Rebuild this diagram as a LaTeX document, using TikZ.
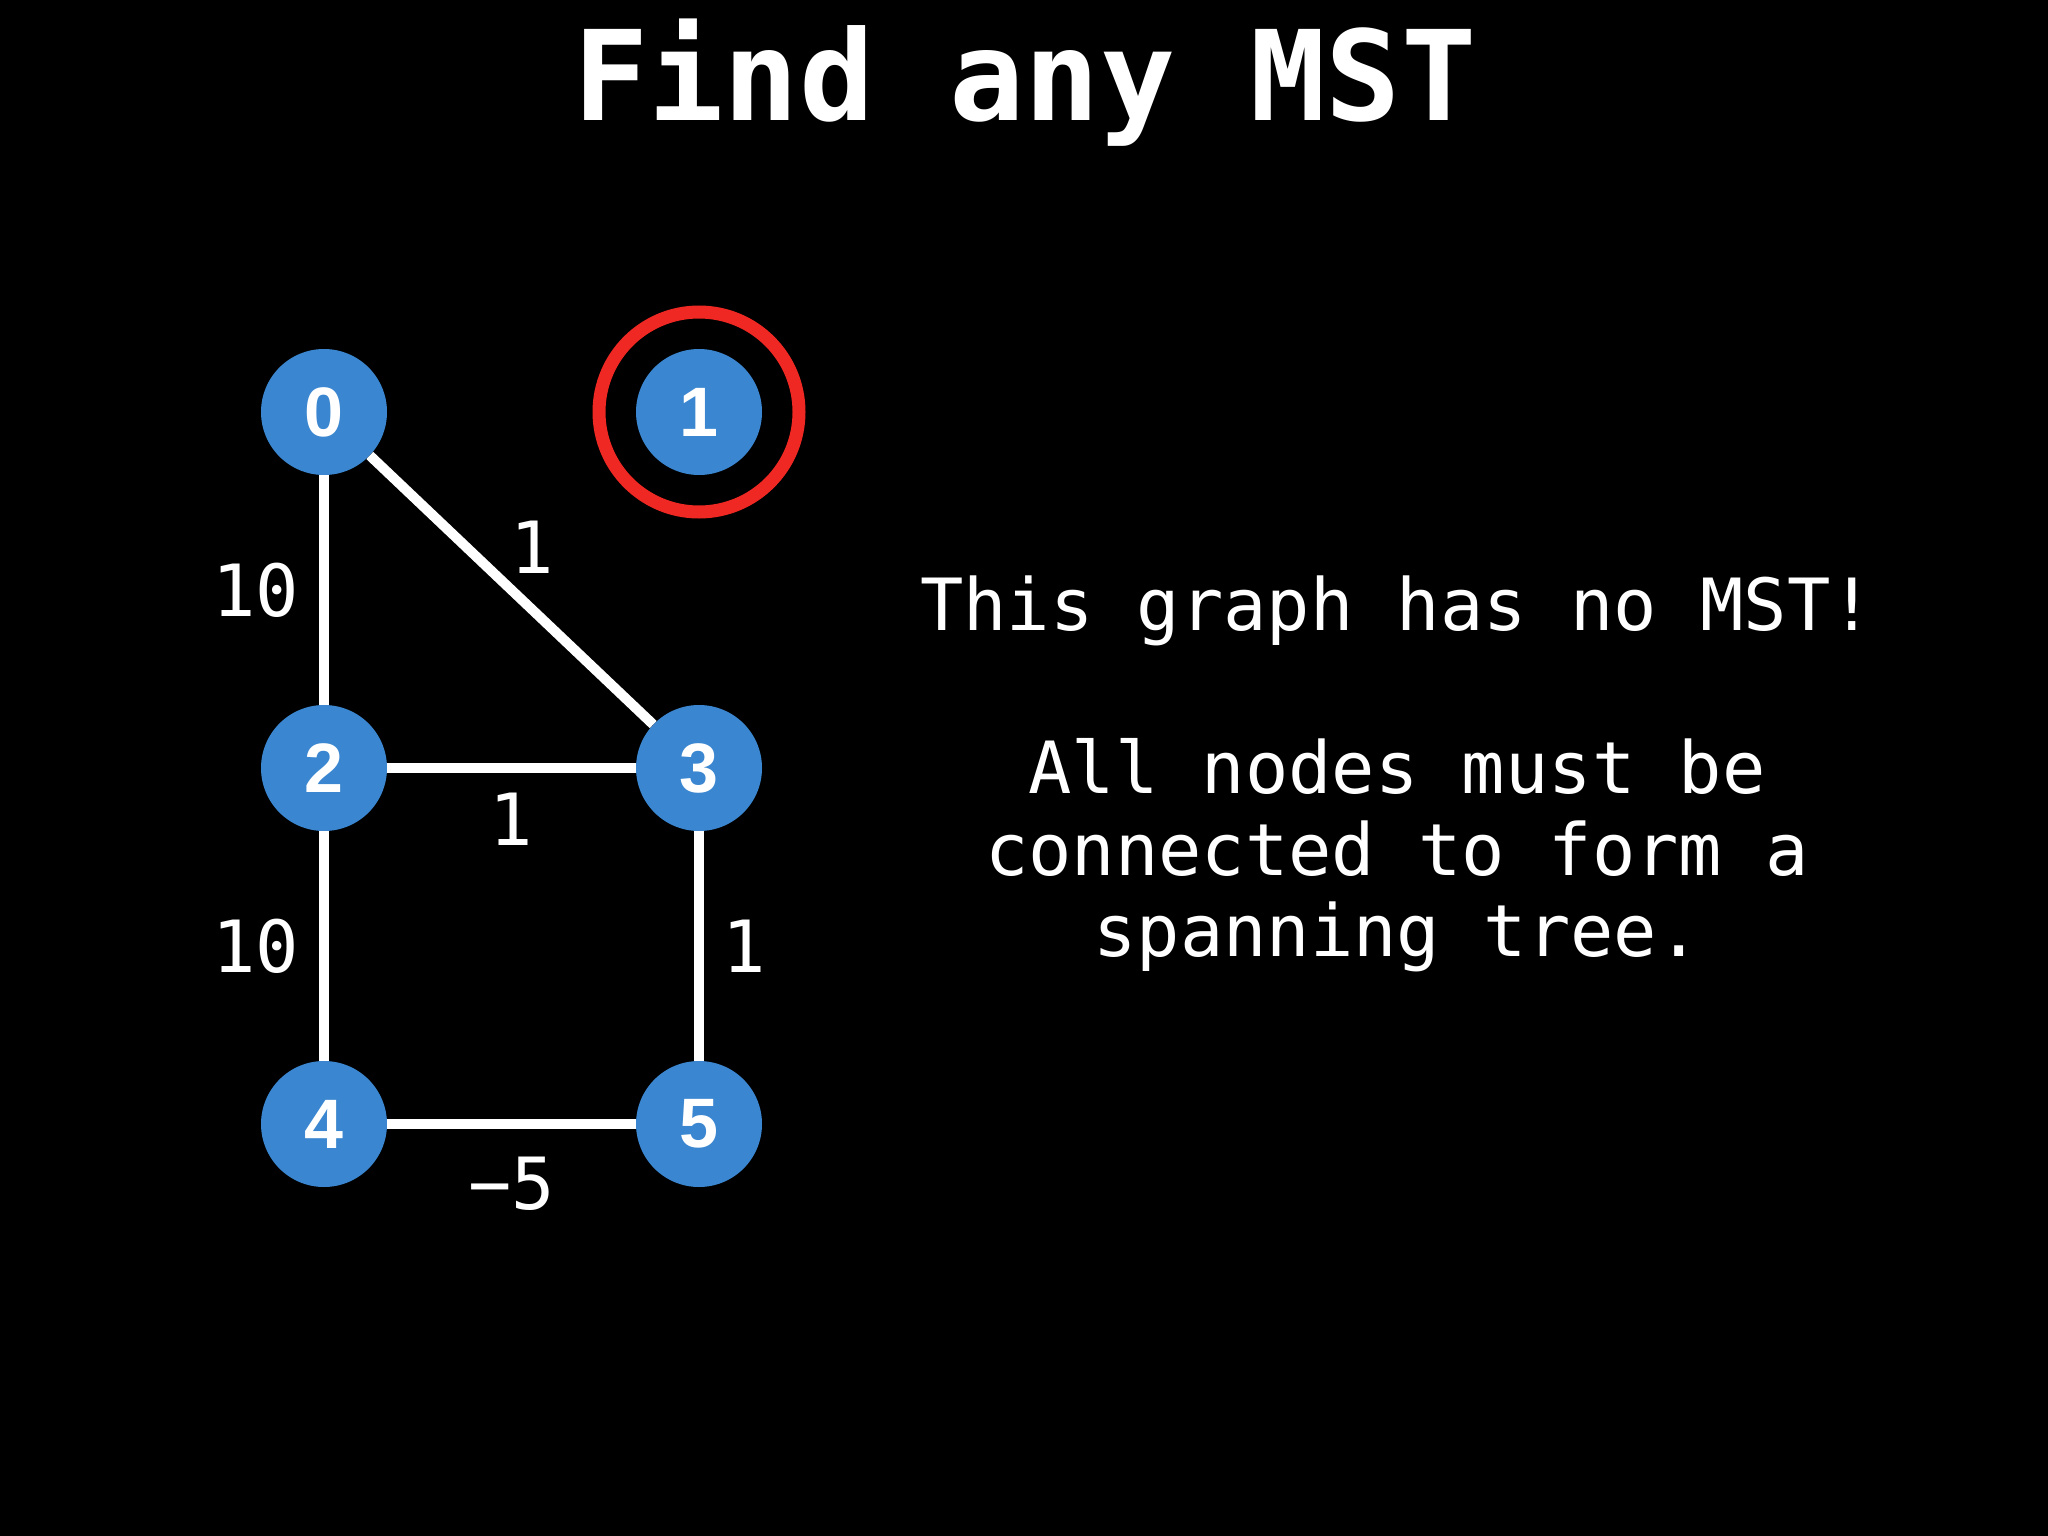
\documentclass[tikz,border=0pt]{standalone}
\usepackage{fontspec}
\setmonofont{DejaVu Sans Mono}
\newfontfamily\numfont{Liberation Sans}
\usetikzlibrary{positioning}

\definecolor{vblue}{RGB}{58,134,208}
\definecolor{ringred}{RGB}{240,40,35}

\begin{document}
\begin{tikzpicture}[x=1pt, y=-1pt,
  vert/.style={circle, fill=vblue, minimum size=126pt, inner sep=0pt, text=white,
    font=\numfont\bfseries\fontsize{70}{70}\selectfont},
  edge/.style={draw=white, line width=10pt},
  wt/.style={inner sep=0pt, text=white, font=\ttfamily\fontsize{72}{72}\selectfont}]
  \fill[black] (0,0) rectangle (2048,1536);
  \useasboundingbox (0,0) rectangle (2048,1536);

  \node[text=white, anchor=base, font=\ttfamily\bfseries\fontsize{125}{125}\selectfont] (title) at (1025,121) {Find any MST};

  \node[vert] (V0) at (324,412) {0};
  \node[vert] (V1) at (699,412) {1};
  \node[vert] (V2) at (324,768) {2};
  \node[vert] (V3) at (699,768) {3};
  \node[vert] (V4) at (324,1124) {4};
  \node[vert] (V5) at (699,1124) {5};

  \node[circle, draw=ringred, line width=13pt, minimum size=200pt] (ring) at (V1) {};

  \draw[edge] (V0) -- (V2) node[wt, midway, left=20pt] {10};
  \draw[edge] (V0) -- (V3) node[wt, midway, above right=12pt and -6pt] {1};
  \draw[edge] (V2) -- (V3) node[wt, midway, below=20pt] {1};
  \draw[edge] (V2) -- (V4) node[wt, midway, left=20pt] {10};
  \draw[edge] (V3) -- (V5) node[wt, midway, right=18pt] {1};
  \draw[edge] (V4) -- (V5) node[wt, midway, below=28pt] {−5};

  \node[text=white, align=center, anchor=north, inner sep=0pt,
    font=\ttfamily\fontsize{72}{81.5}\selectfont] (note) at (1397,576)
    {This graph has no MST!\\[81.5pt]All nodes must be\\connected to form a\\spanning tree.};
\end{tikzpicture}
\end{document}
